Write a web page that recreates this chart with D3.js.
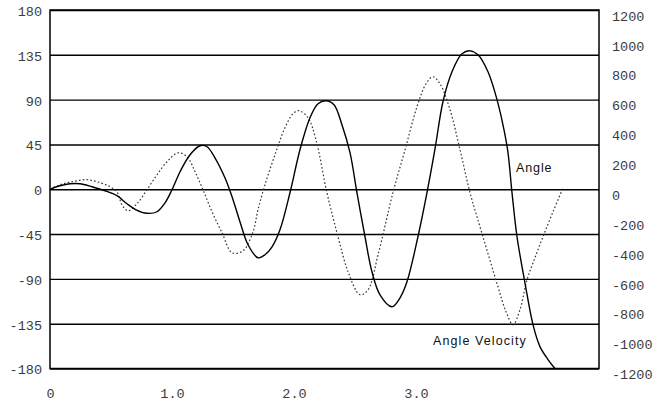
<!DOCTYPE html>
<html>
<head>
<meta charset="utf-8">
<script src="https://cdn.jsdelivr.net/npm/d3@7"></script>
<style>
  body { margin: 0; background: #fff; }
  svg { display: block; }
</style>
</head>
<body>
<svg id="chart" width="653" height="409"></svg>
<script>
// Tick values and labels
const angleTicks = [-180, -135, -90, -45, 0, 45, 90, 135, 180];
const velocityTicks = [-1200, -1000, -800, -600, -400, -200, 0, 200, 400, 600, 800, 1000, 1200];
const timeTicks = [0, 1, 2, 3];
const timeTickLabels = ["0", "1.0", "2.0", "3.0"];

// Angle (deg) against time
const angleTime = [0, 0.082, 0.164, 0.246, 0.344, 0.451, 0.549, 0.631, 0.705, 0.795, 0.877, 0.943, 1.0,
  1.066, 1.148, 1.23, 1.287, 1.352, 1.434, 1.492, 1.557, 1.623, 1.705, 1.762, 1.82, 1.885, 1.967,
  2.049, 2.131, 2.197, 2.262, 2.328, 2.393, 2.459, 2.516, 2.582, 2.639, 2.705, 2.803, 2.869, 2.926,
  3.016, 3.09, 3.156, 3.221, 3.295, 3.377, 3.443, 3.508, 3.59, 3.664, 3.721, 3.754, 3.787, 3.828,
  3.893, 3.959, 4.016, 4.082, 4.139];
const angleDeg = [0, 3.5, 5.5, 5.5, 2.5, -1.5, -6.5, -14.6, -20.6, -24.1, -22.6, -13.6, -0.5,
  17.6, 34.7, 43.7, 42.7, 31.6, 11.5, -7.5, -32.6, -55.7, -68.8, -65.8, -57.8, -40.7, -3.5,
  39.7, 71.8, 85.9, 88.9, 84.9, 64.8, 36.7, -3.5, -47.7, -82.9, -106, -118, -109, -92.9,
  -47.7, -3.5, 40.7, 87.9, 118, 136, 139, 135, 118, 90, 59.8, 36.7, -3.5, -47.7,
  -93.9, -136, -158, -171, -180];

// Angle velocity (deg/s) against time
const velocityTime = [0, 0.082, 0.18, 0.303, 0.41, 0.492, 0.549, 0.59, 0.639, 0.713, 0.795, 0.877,
  0.959, 1.049, 1.123, 1.189, 1.254, 1.328, 1.41, 1.492, 1.582, 1.664, 1.705, 1.762, 1.844, 1.926,
  1.992, 2.041, 2.115, 2.18, 2.27, 2.361, 2.443, 2.541, 2.607, 2.689, 2.811, 2.91, 3.008, 3.082,
  3.139, 3.197, 3.279, 3.361, 3.443, 3.549, 3.672, 3.738, 3.795, 3.852, 3.91, 3.975, 4.041, 4.123, 4.205];
const velocityValue = [0, 30, 50, 64, 44, 17, -17, -104, -144, -97, -3, 97,
  184, 244, 218, 117, -3, -151, -291, -425, -412, -285, -137, 30, 231, 412,
  506, 526, 479, 331, -23, -318, -552, -706, -673, -439, -23, 264, 552, 706,
  753, 706, 532, 264, -23, -318, -653, -820, -907, -807, -606, -459, -318, -151, 10];

const svg = d3.select("#chart");
const plot = { left: 50, right: 599, top: 10, bottom: 368.5 };

const x = d3.scaleLinear().domain([0, 4.5]).range([plot.left, plot.right]);
const yAngle = d3.scaleLinear().domain([-180, 180]).range([plot.bottom, plot.top]);
const yVel = d3.scaleLinear().domain([-1200, 1200]).range([plot.bottom, plot.top]);

const labelFont = "'Liberation Mono', 'DejaVu Sans Mono', monospace";
const labelColor = "#3c3c3c";

// Horizontal grid lines + left labels
const leftAxis = d3.axisLeft(yAngle)
  .tickValues(angleTicks)
  .tickSize(-(plot.right - plot.left))
  .tickPadding(8)
  .tickFormat(d => String(d));
const gLeft = svg.append("g")
  .attr("transform", `translate(${plot.left},0)`)
  .call(leftAxis);
gLeft.select(".domain").remove();
gLeft.selectAll(".tick line").attr("stroke", "#000").attr("stroke-width", 1.4);
gLeft.selectAll(".tick text")
  .attr("font-family", labelFont).attr("font-size", 13.5)
  .attr("fill", labelColor).attr("dy", "0.4em");

// Right axis labels (angle velocity)
const rightAxis = d3.axisRight(yVel)
  .tickValues(velocityTicks)
  .tickSize(0)
  .tickPadding(13)
  .tickFormat(d => String(d));
const gRight = svg.append("g")
  .attr("transform", `translate(${plot.right},0)`)
  .call(rightAxis);
gRight.select(".domain").remove();
gRight.selectAll(".tick text")
  .attr("font-family", labelFont).attr("font-size", 13.5)
  .attr("fill", labelColor).attr("dy", "0.75em");

// Bottom axis labels (time)
const bottomAxis = d3.axisBottom(x)
  .tickValues(timeTicks)
  .tickSize(0)
  .tickPadding(20)
  .tickFormat((d, i) => timeTickLabels[i]);
const gBottom = svg.append("g")
  .attr("transform", `translate(0,${plot.bottom})`)
  .call(bottomAxis);
gBottom.select(".domain").remove();
gBottom.selectAll(".tick text")
  .attr("font-family", labelFont).attr("font-size", 13.5)
  .attr("fill", labelColor);

// Plot frame
svg.append("rect")
  .attr("x", plot.left).attr("y", plot.top)
  .attr("width", plot.right - plot.left).attr("height", plot.bottom - plot.top)
  .attr("fill", "none").attr("stroke", "#000").attr("stroke-width", 1.5);

// Curves, clipped to the plot frame
svg.append("clipPath").attr("id", "plot-clip")
  .append("rect")
  .attr("x", plot.left).attr("y", plot.top - 1)
  .attr("width", plot.right - plot.left).attr("height", plot.bottom - plot.top + 2);

const velLine = d3.line()
  .x(d => x(d[0])).y(d => yVel(d[1]))
  .curve(d3.curveCatmullRom.alpha(0.5));
const angleLine = d3.line()
  .x(d => x(d[0])).y(d => yAngle(d[1]))
  .curve(d3.curveCatmullRom.alpha(0.5));

svg.append("path")
  .datum(d3.zip(velocityTime, velocityValue))
  .attr("clip-path", "url(#plot-clip)")
  .attr("d", velLine)
  .attr("fill", "none").attr("stroke", "#333")
  .attr("stroke-width", 1.2).attr("stroke-dasharray", "1.6,2.2");

svg.append("path")
  .datum(d3.zip(angleTime, angleDeg))
  .attr("clip-path", "url(#plot-clip)")
  .attr("d", angleLine)
  .attr("fill", "none").attr("stroke", "#000")
  .attr("stroke-width", 1.4);

// Series labels
const seriesFont = "'Liberation Sans', Arial, sans-serif";
svg.append("text")
  .attr("x", 516).attr("y", 172)
  .attr("font-family", seriesFont).attr("font-size", 12.5)
  .attr("letter-spacing", 0.9)
  .attr("fill", "#111")
  .text("Angle");
svg.append("text")
  .attr("x", 433).attr("y", 345)
  .attr("font-family", seriesFont).attr("font-size", 12.5)
  .attr("letter-spacing", 1.1)
  .attr("fill", "#111")
  .text("Angle Velocity");
</script>
</body>
</html>
